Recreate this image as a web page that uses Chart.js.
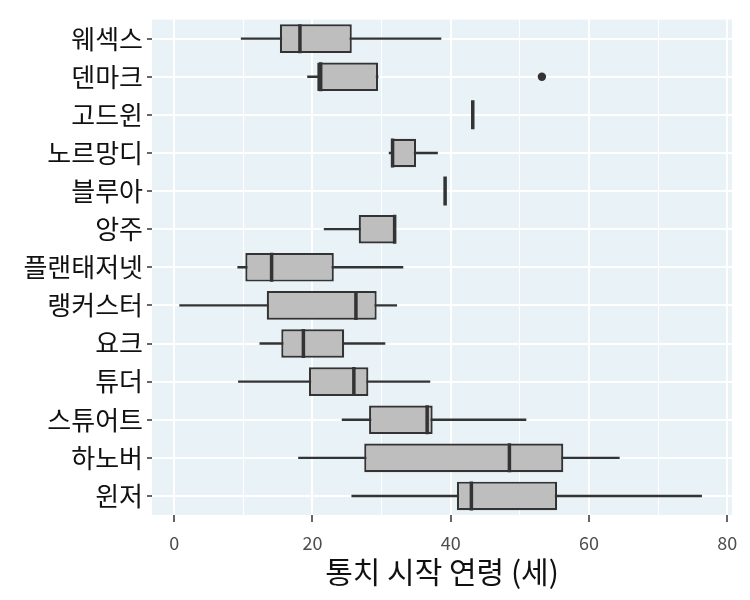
<!DOCTYPE html>
<html>
<head>
<meta charset="utf-8">
<script src="https://cdn.jsdelivr.net/npm/chart.js@4/dist/chart.umd.min.js"></script>
<style>
  html, body { margin: 0; padding: 0; background: #fff; }
  #wrap { width: 750px; height: 600px; position: relative; }
</style>
</head>
<body>
<div id="wrap"><canvas id="chart"></canvas></div>
<script>
// dynasties, top to bottom
const dynasties = ["웨섹스", "덴마크", "고드윈", "노르망디", "블루아", "앙주", "플랜태저넷",
  "랭커스터", "요크", "튜더", "스튜어트", "하노버", "윈저"];

// box plot stats (age at start of reign)
const whiskerLow = [9.7, 19.3, 43.2, 31.1, 39.2, 21.7, 9.2, 0.8, 12.4, 9.3, 24.3, 18.0, 25.7];
const q1 =         [15.3, 20.7, 43.2, 31.4, 39.2, 26.7, 10.3, 13.4, 15.5, 19.5, 28.2, 27.5, 40.9];
const medians =    [18.2, 21.2, 43.2, 31.6, 39.2, 31.9, 14.1, 26.3, 18.7, 26.0, 36.6, 48.5, 43.0];
const q3 =         [25.7, 29.5, 43.2, 35.0, 39.2, 32.0, 23.1, 29.3, 24.6, 28.1, 37.4, 56.3, 55.4];
const whiskerHigh = [38.6, 29.5, 43.2, 38.1, 39.2, 32.0, 33.1, 32.2, 30.5, 37.0, 50.9, 64.4, 76.3];

const outlierDynasty = ["덴마크"];
const outlierAge = [53.2];

const xTickValues = [0, 10, 20, 30, 40, 50, 60, 70, 80];
const xTitle = "통치 시작 연령 (세)";

const INK = "#333333";
const FONT = "'Noto Sans CJK KR', 'Noto Sans', sans-serif";

const panelBg = {
  id: "panelBg",
  beforeDraw(chart) {
    const { ctx, chartArea: a } = chart;
    ctx.save();
    ctx.fillStyle = "#e9f2f6";
    ctx.fillRect(a.left, a.top, a.right - a.left, a.bottom - a.top);
    ctx.restore();
  },
};

new Chart(document.getElementById("chart"), {
  type: "bar",
  data: {
    labels: dynasties,
    datasets: [
      {
        // median line
        type: "line",
        indexAxis: "y",
        data: medians,
        showLine: false,
        pointStyle: "line",
        rotation: 90,
        pointRadius: 14.5,
        pointBorderWidth: 3.5,
        pointBorderColor: INK,
        pointBackgroundColor: INK,
        order: 0,
      },
      {
        // outliers
        type: "line",
        indexAxis: "y",
        data: outlierDynasty.map((d, i) => ({ x: outlierAge[i], y: d })),
        showLine: false,
        pointStyle: "circle",
        pointRadius: 4.2,
        pointBorderWidth: 0,
        pointBackgroundColor: INK,
        order: 0,
      },
      {
        // box
        indexAxis: "y",
        data: q1.map((v, i) => [v, q3[i]]),
        backgroundColor: "#bebebe",
        borderColor: INK,
        borderWidth: 2.2,
        borderSkipped: false,
        grouped: false,
        categoryPercentage: 1,
        barPercentage: 0.75,
        order: 1,
      },
      {
        // whiskers
        indexAxis: "y",
        data: whiskerLow.map((v, i) => [v, whiskerHigh[i]]),
        backgroundColor: INK,
        borderWidth: 0,
        grouped: false,
        barThickness: 1.7,
        order: 2,
      },
    ],
  },
  options: {
    indexAxis: "y",
    responsive: true,
    maintainAspectRatio: false,
    animation: false,
    events: [],
    layout: { padding: { left: 0, right: 15, top: 14, bottom: 0 } },
    plugins: {
      legend: { display: false },
      tooltip: { enabled: false },
    },
    scales: {
      x: {
        type: "linear",
        min: -3.2,
        max: 80.7,
        afterBuildTicks: (axis) => {
          axis.ticks = xTickValues.map((v) => ({ value: v }));
        },
        afterFit: (axis) => { axis.height = 85; },
        border: { display: false },
        grid: {
          color: "#ffffff",
          lineWidth: (c) => (c.tick && c.tick.value % 20 === 0 ? 2 : 1),
          tickColor: (c) => (c.tick && c.tick.value % 20 === 0 ? INK : "rgba(0,0,0,0)"),
          tickLength: 7,
          tickWidth: 1.5,
        },
        ticks: {
          autoSkip: false,
          maxRotation: 0,
          padding: 10,
          color: "#4d4d4d",
          font: { family: FONT, size: 18 },
          callback: (v) => (v % 20 === 0 ? String(v) : ""),
        },
        title: {
          display: true,
          text: xTitle,
          color: "#111",
          font: { family: FONT, size: 30 },
          padding: { top: 0, bottom: 10 },
        },
      },
      y: {
        type: "category",
        offset: true,
        afterFit: (axis) => { axis.width = 152; },
        border: { display: false },
        grid: {
          offset: false,
          color: "#ffffff",
          lineWidth: 2,
          tickColor: INK,
          tickLength: 5,
          tickWidth: 1.5,
        },
        ticks: {
          autoSkip: false,
          padding: 4,
          color: "#111",
          font: { family: FONT, size: 26 },
        },
      },
    },
  },
  plugins: [panelBg],
});
</script>
</body>
</html>
